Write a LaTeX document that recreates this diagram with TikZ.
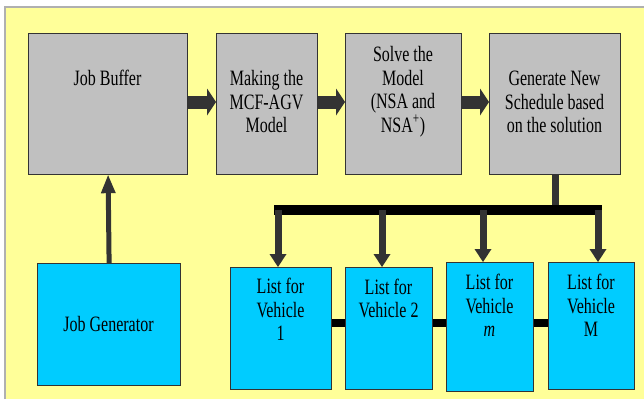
\documentclass[tikz,border=0pt]{standalone}
\usepackage{fontspec}
\setmainfont{Liberation Serif}
\usepackage{graphicx}
\usetikzlibrary{arrows.meta}
\definecolor{bgyellow}{HTML}{FFFF99}
\definecolor{boxgray}{HTML}{C0C0C0}
\definecolor{boxcyan}{HTML}{00CCFF}
\definecolor{darkline}{HTML}{333333}
\definecolor{edgegray}{HTML}{B0B0B0}
\newcommand{\tallt}[1]{\scalebox{1}[1.37]{\begin{tabular}{@{}c@{}}#1\end{tabular}}}
\tikzset{
  box/.style={draw=darkline, line width=1.2pt, inner sep=0pt, anchor=north west},
  graybox/.style={box, fill=boxgray},
  cyanbox/.style={box, fill=boxcyan},
  txt/.style={inner sep=0pt, yshift=-2.5pt, font=\fontsize{16}{17}\selectfont},
  blockarrow/.style={draw=darkline, line width=13pt, -{Triangle[width=27pt,length=9pt,line width=0pt]}},
  uparrow/.style={draw=darkline, line width=5pt, -{Triangle[width=15pt,length=18pt,line width=0pt]}},
  droparrow/.style={draw=darkline, line width=7pt, -{Triangle[width=17pt,length=13pt,line width=0pt]}},
  bus/.style={draw=black, line width=10pt},
  stub/.style={draw=darkline, line width=7pt},
  link/.style={draw=black, line width=8pt},
}
\begin{document}
\begin{tikzpicture}[x=1pt,y=-1pt]
\useasboundingbox (0,0) rectangle (644,399);
\fill[white] (0,0) rectangle (644,399);
\fill[bgyellow] (5,7) rectangle (644,399);
\draw[edgegray, line width=1.5pt] (5,399) -- (5,7) -- (644,7);
% top row
\node[graybox, minimum width=159pt, minimum height=141pt] (jb) at (28,33) {};
\node[graybox, minimum width=101pt, minimum height=141pt] (mk) at (216,33) {};
\node[graybox, minimum width=116pt, minimum height=141pt] (sv) at (345,33) {};
\node[graybox, minimum width=131pt, minimum height=141pt] (gn) at (489,33) {};
\node[txt] (jbt) at (107.5,78) {\tallt{Job Buffer}};
\node[txt] (mkt) at (266.5,102) {\tallt{Making the\\MCF-AGV\\Model}};
\node[txt] (svt) at (403,90) {\tallt{Solve the\\Model\\(NSA and\\NSA\textsuperscript{+})}};
\node[txt] (gnt) at (554.5,102) {\tallt{Generate New\\Schedule based\\on the solution}};
% bottom
\node[cyanbox, minimum width=143pt, minimum height=122pt] (jg) at (37,263) {};
\node[txt] (jgt) at (108.5,324) {\tallt{Job Generator}};
\node[cyanbox, minimum width=101pt, minimum height=122pt] (v1) at (230,267) {};
\node[cyanbox, minimum width=87pt, minimum height=122pt] (v2) at (345,267) {};
\node[cyanbox, minimum width=87pt, minimum height=129pt] (vm) at (446,262) {};
\node[cyanbox, minimum width=86pt, minimum height=127pt] (vM) at (548,262) {};
\node[txt] (v1t) at (280.5,310) {\tallt{List for\\Vehicle\\1}};
\node[txt] (v2t) at (388.5,299) {\tallt{List for\\Vehicle 2}};
\node[txt] (vmt) at (489.5,306) {\tallt{List for\\Vehicle\\\textit{m}}};
\node[txt] (vMt) at (591,306) {\tallt{List for\\Vehicle\\M}};
% arrows top row
\draw[blockarrow] (jb.east |- 0,102) -- (mk.west |- 0,102);
\draw[blockarrow] (mk.east |- 0,102) -- (sv.west |- 0,102);
\draw[blockarrow] (sv.east |- 0,102) -- (gn.west |- 0,102);
% job generator to buffer
\draw[uparrow] (jg.north) -- (jb.south);
% bus
\coordinate (bl) at (274,210);
\coordinate (br) at (602,210);
\coordinate (bs) at (555,210);
\draw[stub] (gn.south -| bs) -- (bs);
\draw[bus] (bl) -- (br);
\coordinate (d1) at (278,210);
\coordinate (d2) at (382,210);
\coordinate (d3) at (483,210);
\coordinate (d4) at (598,210);
\draw[droparrow] (d1) -- (d1 |- v1.north);
\draw[droparrow] (d2) -- (d2 |- v2.north);
\draw[droparrow] (d3) -- (d3 |- vm.north);
\draw[droparrow] (d4) -- (d4 |- vM.north);
% links between vehicle lists
\draw[link] (v1.east |- 0,323) -- (v2.west |- 0,323);
\draw[link] (v2.east |- 0,323) -- (vm.west |- 0,323);
\draw[link] (vm.east |- 0,323) -- (vM.west |- 0,323);
\end{tikzpicture}
\end{document}
